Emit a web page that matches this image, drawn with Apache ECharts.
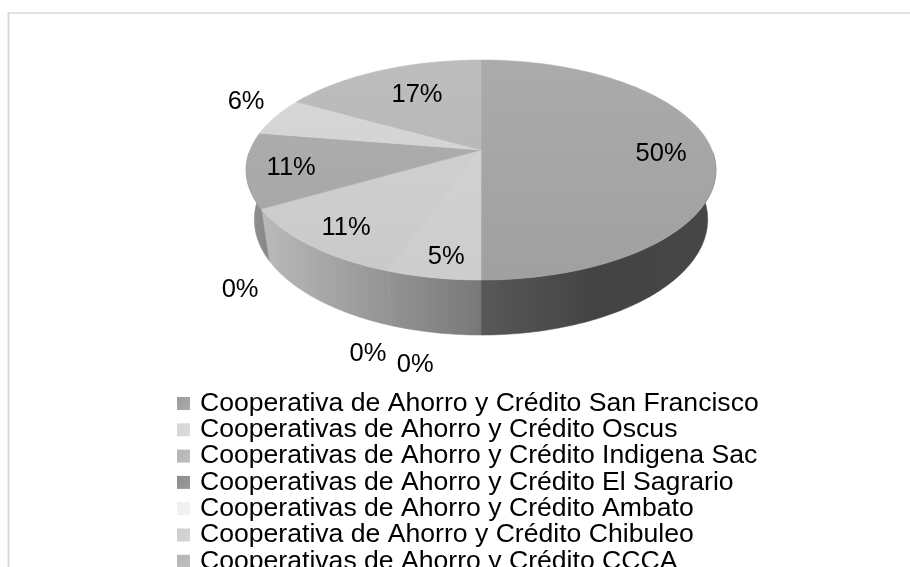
<!DOCTYPE html>
<html>
<head>
<meta charset="utf-8">
<style>html,body{margin:0;padding:0;background:#fff;overflow:hidden}#c{width:910px;height:567px}</style>
<script src="https://cdn.jsdelivr.net/npm/echarts@6/dist/echarts.min.js"></script>
</head>
<body>
<div id="c"></div>
<script>
// --- data ---
const legendNames = [
  'Cooperativa de Ahorro y Crédito San Francisco',
  'Cooperativas de Ahorro y Crédito Oscus',
  'Cooperativas de Ahorro y Crédito Indigena Sac',
  'Cooperativas de Ahorro y Crédito El Sagrario',
  'Cooperativas de Ahorro y Crédito Ambato',
  'Cooperativa de Ahorro y Crédito Chibuleo',
  'Cooperativas de Ahorro y Crédito CCCA'
];
// the last two categories are cut off below the picture
const sliceNames = legendNames.concat(['Categoria 8', 'Categoria 9']);
const sliceValues = [50, 5.4, 0, 0, 11.2, 0, 11, 5.6, 16.8];

// --- styling / layout ---
const legendColors = [['#9a9a9a','#acacac'],['#d6d6d6','#dcdcdc'],['#b4b4b4','#c0c0c0'],['#8c8c8c','#9c9c9c'],['#eeeeee','#f4f4f4'],['#cccccc','#d6d6d6'],['#b4b4b4','#c0c0c0'],['#d0d0d0','#dadada'],['#b4b4b4','#c0c0c0']];
const topColors = [['#ababab','#a0a0a0'],['#d4d4d4','#cdcdcd'],['#ccc','#ccc'],['#ccc','#ccc'],['#d4d4d4','#c9c9c9'],['#ccc','#ccc'],['#b0b0b0','#a4a4a4'],['#d8d8d8','#cfcfcf'],['#bdbdbd','#b2b2b2']];
const sideStops = [
  [[0,'#585858'],[0.5,'#434343'],[1,'#474747']],
  [[0,'#949494'],[1,'#787878']],
  [[0,'#999'],[1,'#999']],
  [[0,'#999'],[1,'#999']],
  [[0,'#bababa'],[1,'#949494']],
  [[0,'#999'],[1,'#999']],
  [[0,'#939393'],[1,'#888888']],
  [[0,'#999'],[1,'#999']],
  [[0,'#999'],[1,'#999']]
];
const sideSpan = [[481,716],[388,481],[0,1],[0,1],[261,388],[0,1],[246,266],[0,1],[0,1]];
// label anchors in unit-disc coordinates (u right, v toward viewer)
const labelSpots = [[.777,.0187],[-.128,.837],[-.364,1.411],[-.209,1.466],[-.517,.632],[-.844,1.049],[-.80,.146],[-1.112,-.514],[-.307,-.594]];

const CX = 481, APEX_Y = 150, A = 231, B = 106.4, P = -0.1818;
const BASE_SX = 0.965, BASE_SY = 1.05, BASE_APEX_Y = 198.5;
const SIDE_FROM = 1.6, SIDE_TO = Math.PI * 2 - 1.6; // only the front of the wall shows
function project(u, v, sx, sy, y0) {
  const d = 1 + P * v;
  return [CX + sx * A * u / d, y0 + sy * B * v / d];
}
function topPt(t)  { return project(Math.sin(t), -Math.cos(t), 1, 1, APEX_Y); }
function basePt(t) { return project(Math.sin(t), -Math.cos(t), BASE_SX, BASE_SY, BASE_APEX_Y); }

const total = sliceValues.reduce((a, b) => a + b, 0);
let running = 0;
const sliceAngles = sliceValues.map(v => {
  const a0 = running / total * Math.PI * 2;
  running += v;
  return [a0, running / total * Math.PI * 2];
});

function arc(fn, a0, a1) {
  const steps = Math.max(2, Math.ceil((a1 - a0) / 0.02));
  const pts = [];
  for (let k = 0; k <= steps; k++) pts.push(fn(a0 + (a1 - a0) * k / steps));
  return pts;
}

function renderSlice(i) {
  return function () {
    const [a0, a1] = sliceAngles[i];
    const children = [];
    const G = echarts.graphic.LinearGradient;
    if (a1 > a0) {
      const s0 = Math.max(a0, SIDE_FROM), s1 = Math.min(a1, SIDE_TO);
      if (s1 > s0) {
        const sideFill = new G(sideSpan[i][0], 0, sideSpan[i][1], 0, sideStops[i].map(s => ({offset: s[0], color: s[1]})), true);
        children.push({type: 'polygon', z2: 1, shape: {points: arc(topPt, s0, s1).concat(arc(basePt, s0, s1).reverse())}, style: {fill: sideFill, stroke: sideFill, lineWidth: 0.5}});
      }
      const topFill = new G(0, 60, 0, 280, [{offset: 0, color: topColors[i][0]}, {offset: 1, color: topColors[i][1]}], true);
      children.push({type: 'polygon', z2: 5, shape: {points: [project(0, 0, 1, 1, APEX_Y)].concat(arc(topPt, a0, a1))}, style: {fill: topFill, stroke: topFill, lineWidth: 0.5}});
    }
    const p = project(labelSpots[i][0], labelSpots[i][1], 1, 1, APEX_Y);
    children.push({type: 'text', z2: 10, x: p[0], y: p[1] + 2, style: {
      text: Math.round(sliceValues[i] / total * 100) + '%',
      fill: '#000', font: '25.5px "Liberation Sans", Arial, sans-serif', align: 'center', verticalAlign: 'middle'
    }});
    return {type: 'group', children};
  };
}

const chart = echarts.init(document.getElementById('c'), null, {renderer: 'canvas'});
chart.setOption({
  animation: false,
  backgroundColor: '#ffffff',
  tooltip: {show: false},
  legend: {
    show: true, orient: 'vertical', left: 177, top: 390, height: 400, selectedMode: false,
    itemWidth: 13, itemHeight: 13, itemGap: -0.7, padding: 0,
    icon: 'rect',
    data: legendNames.map((n, i) => ({name: n, itemStyle: {color: new echarts.graphic.LinearGradient(0, 0, 1, 1, [{offset: 0, color: legendColors[i][0]}, {offset: 1, color: legendColors[i][1]}])}})),
    textStyle: {fontFamily: '"Liberation Sans", Arial, sans-serif', fontSize: 26.6, color: '#000', lineHeight: 26, padding: [0, 0, 0, 5]},
    align: 'left'
  },
  graphic: [
    {type: 'line', shape: {x1: 8.5, y1: 13, x2: 8.5, y2: 567}, style: {stroke: '#d9d9d9', lineWidth: 2}, silent: true},
    {type: 'line', shape: {x1: 8, y1: 13, x2: 910, y2: 13}, style: {stroke: '#d9d9d9', lineWidth: 1.5}, silent: true}
  ],
  series: sliceNames.map((name, i) => ({
    type: 'custom', name, coordinateSystem: 'none', silent: true,
    itemStyle: {color: legendColors[i][0]},
    data: [[sliceValues[i]]],
    renderItem: renderSlice(i)
  }))
});
</script>
</body>
</html>
